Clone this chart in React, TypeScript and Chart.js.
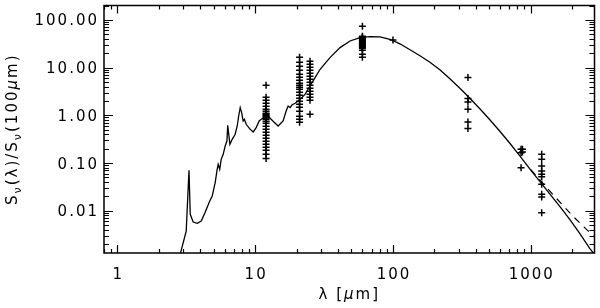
import { useEffect, useRef } from "react";
import { Chart, registerables } from "chart.js";

Chart.register(...registerables);

// Model SED (solid curve): [wavelength in micron, S_nu(lambda)/S_nu(100um)]
const modelCurve: [number, number][] = [
  [2.8, 0.0008], [2.88, 0.00134], [3.16, 0.00375], [3.31, 0.0703], [3.38, 0.0084],
  [3.55, 0.0058], [3.8, 0.00544], [4.06, 0.00608], [4.34, 0.00925], [4.64, 0.015],
  [4.88, 0.0203], [5.13, 0.0394], [5.3, 0.0738], [5.39, 0.094], [5.53, 0.0738],
  [5.67, 0.1196], [5.86, 0.152], [6.06, 0.227], [6.24, 0.289], [6.32, 0.617],
  [6.56, 0.247], [6.81, 0.314], [7.16, 0.4], [7.41, 0.597], [7.59, 0.967],
  [7.79, 1.45], [7.98, 1.14], [8.18, 0.76], [8.36, 0.824], [8.61, 0.648],
  [9.2, 0.508], [9.68, 0.447], [10.17, 0.552], [10.69, 0.76], [11.24, 0.853],
  [11.81, 0.865], [12.63, 0.908], [13.5, 0.748], [14.68, 0.597], [15.95, 0.76],
  [16.78, 1.23], [17.35, 1.57], [17.94, 1.45], [18.54, 1.66], [19.5, 1.785],
  [21.2, 2.16], [23.0, 2.75], [25.0, 4.11], [27.2, 6.17], [29.6, 9.21],
  [34.9, 16.2], [41.3, 26.2], [48.8, 36.1], [57.6, 42.6], [68.1, 44.7],
  [80.5, 43.8], [95.1, 39.2], [112.4, 31.5], [132.8, 23.6], [157, 17.7],
  [185.4, 12.9], [219, 8.99], [258.8, 5.82], [305.9, 3.68], [361.4, 2.27],
  [427, 1.369], [504.6, 0.805], [596.3, 0.462], [704.6, 0.259], [832.5, 0.1416],
  [983.5, 0.0755], [1162, 0.0413], [1373, 0.0226], [1623, 0.01237], [1917, 0.0066],
  [2265, 0.00336], [2677, 0.00163], [3008, 0.001054],
];

// Alternative long-wavelength model (dashed curve)
const dashedLambda = [1000, 1443, 2015, 2910];
const dashedValues = [0.0724, 0.0221, 0.00774, 0.00277];

// Observed photometry (crosses), grouped by band
const obsBands = [12, 21, 25, 60, 100, 350, 850, 870, 1200];
const obs12 = [4.26, 2.38, 2.06, 1.785, 1.545, 1.336, 1.213, 1.101, 1.05, 1.0, 0.95, 0.908, 0.88, 0.824, 0.748, 0.679, 0.588, 0.508, 0.44, 0.381, 0.33, 0.285, 0.247, 0.214, 0.185, 0.152, 0.125];
const obs21 = [16.4, 12.9, 10.6, 8.78, 7.24, 6.26, 5.42, 4.69, 4.26, 3.87, 3.51, 3.03, 2.62, 2.27, 1.97, 1.7, 1.47, 1.21, 0.953, 0.824, 0.713];
const obs25 = [13.6, 11.7, 10.1, 8.78, 7.6, 6.57, 5.69, 4.92, 4.26, 3.68, 3.19, 2.76, 2.38, 2.06, 1.05];
const obs60 = [73.4, 45.3, 43.0, 41.1, 39.2, 37.4, 35.6, 33.9, 32.3, 30.8, 29.4, 28.0, 26.7, 25.4, 23.0, 19.0, 16.4];
const obs100 = [37.9];
const obs350 = [6.17, 2.24, 1.9, 1.34, 0.724, 0.526];
const obs850 = [0.194, 0.165, 0.08];
const obs870 = [0.194, 0.17];
const obs1200 = [0.152, 0.1196, 0.0865, 0.068, 0.058, 0.0518, 0.0357, 0.0221, 0.0194, 0.00912];
const obsValues = [obs12, obs21, obs25, obs60, obs100, obs350, obs850, obs870, obs1200];

// Axis setup
const xRange = [0.8, 2900];
const yRange = [0.0013, 200];
const xTicks = [1, 10, 100, 1000];
const yTicks = [0.01, 0.1, 1, 10, 100];
const xTickLabels = ["1", "10", "100", "1000"];
const yTickLabels = ["0.01", "0.10", "1.00", "10.00", "100.00"];

const FONT = "'DejaVu Sans', 'Liberation Sans', sans-serif";

type Part = { t: string; size: number; dy?: number; italic?: boolean };

function drawRich(ctx: CanvasRenderingContext2D, parts: Part[], cx: number, baseline: number) {
  const font = (p: Part) => `${p.italic ? "italic " : ""}${p.size}px ${FONT}`;
  let total = 0;
  const widths = parts.map((p) => {
    ctx.font = font(p);
    const w = ctx.measureText(p.t).width;
    total += w;
    return w;
  });
  let x = cx - total / 2;
  ctx.textAlign = "left";
  ctx.textBaseline = "alphabetic";
  parts.forEach((p, i) => {
    ctx.font = font(p);
    ctx.fillText(p.t, x, baseline + (p.dy || 0));
    x += widths[i];
  });
}

const framePlugin = {
  id: "idlFrame",
  afterDraw(chart: any) {
    const { ctx, chartArea: a, scales } = chart;
    const xs = scales.x;
    const ys = scales.y;
    ctx.save();
    (ctx as any).letterSpacing = "2px";
    ctx.strokeStyle = "#000";
    ctx.fillStyle = "#000";
    ctx.lineWidth = 1.5;
    ctx.strokeRect(a.left, a.top, a.right - a.left, a.bottom - a.top);
    ctx.lineWidth = 1.2;
    ctx.beginPath();
    for (let e = -1; e <= 4; e++) {
      for (let m = 1; m <= 9; m++) {
        const v = m * Math.pow(10, e);
        if (v < xs.min || v > xs.max) continue;
        const p = Math.round(xs.getPixelForValue(v)) + 0.5;
        const L = m === 1 ? 8 : 4;
        ctx.moveTo(p, a.bottom);
        ctx.lineTo(p, a.bottom - L);
        ctx.moveTo(p, a.top);
        ctx.lineTo(p, a.top + L);
      }
    }
    for (let e = -3; e <= 3; e++) {
      for (let m = 1; m <= 9; m++) {
        const v = m * Math.pow(10, e);
        if (v < ys.min || v > ys.max) continue;
        const p = Math.round(ys.getPixelForValue(v)) + 0.5;
        const L = m === 1 ? 9 : 5;
        ctx.moveTo(a.left, p);
        ctx.lineTo(a.left + L, p);
        ctx.moveTo(a.right, p);
        ctx.lineTo(a.right - L, p);
      }
    }
    ctx.stroke();

    // tick labels
    ctx.font = `15px ${FONT}`;
    ctx.textBaseline = "alphabetic";
    ctx.textAlign = "right";
    yTicks.forEach((v, i) => {
      const p = ys.getPixelForValue(v);
      ctx.fillText(yTickLabels[i], a.left - 5, p + 5.5);
    });
    ctx.textAlign = "center";
    xTicks.forEach((v, i) => {
      const p = xs.getPixelForValue(v);
      ctx.fillText(xTickLabels[i], p + 1, 278.5);
    });

    // x title
    drawRich(
      ctx,
      [
        { t: "λ [", size: 15 },
        { t: "μ", size: 15, italic: true },
        { t: "m]", size: 15 },
      ],
      (a.left + a.right) / 2,
      299
    );

    // y title (rotated)
    ctx.save();
    ctx.translate(17, (a.top + a.bottom) / 2);
    ctx.rotate(-Math.PI / 2);
    drawRich(
      ctx,
      [
        { t: "S", size: 15 },
        { t: "ν", size: 11, dy: 4 },
        { t: "(λ)/S", size: 15 },
        { t: "ν", size: 11, dy: 4 },
        { t: "(100", size: 15 },
        { t: "μ", size: 15, italic: true },
        { t: "m)", size: 15 },
      ],
      0,
      0
    );
    ctx.restore();
    ctx.restore();
  },
};

export default function App() {
  const ref = useRef<HTMLCanvasElement | null>(null);

  useEffect(() => {
    document.body.style.margin = "0";
    const canvas = ref.current;
    if (!canvas) return;

    const obsPoints: { x: number; y: number }[] = [];
    obsBands.forEach((b, i) => obsValues[i].forEach((v) => obsPoints.push({ x: b, y: v })));

    const chart = new Chart(canvas, {
      type: "scatter",
      data: {
        datasets: [
          {
            label: "model",
            data: modelCurve.map(([x, y]) => ({ x, y })),
            showLine: true,
            borderColor: "#000",
            borderWidth: 1.3,
            pointRadius: 0,
            tension: 0,
            fill: false,
          },
          {
            label: "model2",
            data: dashedLambda.map((x, i) => ({ x, y: dashedValues[i] })),
            showLine: true,
            borderColor: "#000",
            borderWidth: 1.2,
            borderDash: [7, 6],
            pointRadius: 0,
            tension: 0,
            fill: false,
          },
          {
            label: "obs",
            data: obsPoints,
            showLine: false,
            pointStyle: "cross",
            pointRadius: 3.5,
            pointBorderWidth: 1.5,
            pointBorderColor: "#000",
            pointBackgroundColor: "#000",
          },
        ],
      },
      options: {
        animation: false,
        responsive: false,
        devicePixelRatio: 1,
        events: [],
        layout: { padding: { top: 5, right: 5, left: 0, bottom: 0 } },
        plugins: { legend: { display: false }, tooltip: { enabled: false } },
        scales: {
          x: {
            type: "logarithmic",
            min: xRange[0],
            max: xRange[1],
            grid: { display: false, drawTicks: false },
            border: { display: false },
            ticks: { display: false },
            afterBuildTicks: (s: any) => {
              s.ticks = xTicks.map((value) => ({ value }));
            },
            afterFit: (s: any) => {
              s.height = 55;
              s.paddingLeft = 0;
              s.paddingRight = 0;
            },
          },
          y: {
            type: "logarithmic",
            min: yRange[0],
            max: yRange[1],
            grid: { display: false, drawTicks: false },
            border: { display: false },
            ticks: { display: false },
            afterBuildTicks: (s: any) => {
              s.ticks = yTicks.map((value) => ({ value }));
            },
            afterFit: (s: any) => {
              s.width = 104;
              s.paddingTop = 0;
              s.paddingBottom = 0;
            },
          },
        },
      },
      plugins: [framePlugin],
    } as any);

    return () => chart.destroy();
  }, []);

  return (
    <div style={{ width: 600, height: 308, background: "#fff" }}>
      <canvas ref={ref} width={600} height={308} style={{ display: "block" }} />
    </div>
  );
}
